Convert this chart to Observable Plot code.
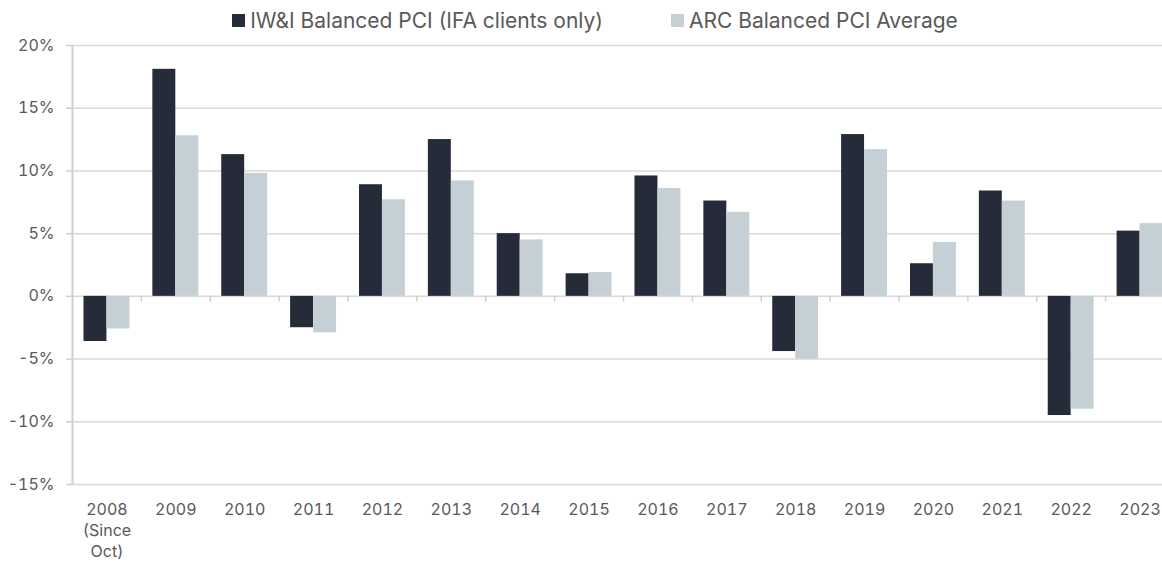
<!DOCTYPE html>
<html>
<head>
<meta charset="utf-8">
<script src="https://cdn.jsdelivr.net/npm/d3@7"></script>
<script src="https://cdn.jsdelivr.net/npm/@observablehq/plot@0.6"></script>
<style>
  html, body { margin: 0; padding: 0; background: #fff; overflow: hidden; }
  body { width: 1162px; font-family: Inter, "Noto Sans", sans-serif; }
  #legend { position: relative; z-index: 2; height: 40px; display: flex; align-items: center; justify-content: center; gap: 68px; font-size: 21px; color: #595959; padding-left: 28px; }
  .item { display: flex; align-items: center; gap: 5px; }
  .sw { width: 13px; height: 13px; display: inline-block; }
  #chart { margin-top: -12px; position: relative; z-index: 1; }
</style>
</head>
<body>
<div id="legend"></div>
<div id="chart"></div>
<script>
const years = ["2008\n(Since\nOct)", "2009", "2010", "2011", "2012", "2013", "2014", "2015", "2016", "2017", "2018", "2019", "2020", "2021", "2022", "2023"];
const seriesNames = ["IW&I Balanced PCI (IFA clients only)", "ARC Balanced PCI Average"];
const iwi = [-3.6, 18.1, 11.3, -2.5, 8.9, 12.5, 5.0, 1.8, 9.6, 7.6, -4.4, 12.9, 2.6, 8.4, -9.5, 5.2];
const arc = [-2.6, 12.8, 9.8, -2.9, 7.7, 9.2, 4.5, 1.9, 8.6, 6.7, -5.0, 11.7, 4.3, 7.6, -9.0, 5.8];
const yTicks = [-15, -10, -5, 0, 5, 10, 15, 20];
const colors = ["#252b38", "#c5d0d6"];

const rows = [];
years.forEach((y, i) => {
  rows.push({i, series: seriesNames[0], value: iwi[i], x1: i - 1/3, x2: i});
  rows.push({i, series: seriesNames[1], value: arc[i], x1: i, x2: i + 1/3});
});
const idx = d3.range(years.length);
const boundaries = idx.map(i => i + 0.5);

// legend
const legend = document.getElementById("legend");
seriesNames.forEach((s, k) => {
  const it = document.createElement("div");
  it.className = "item";
  const sw = document.createElement("span");
  sw.className = "sw";
  sw.style.background = colors[k];
  const t = document.createElement("span");
  t.textContent = s;
  it.appendChild(sw); it.appendChild(t);
  legend.appendChild(it);
});

const chart = Plot.plot({
  width: 1162,
  height: 533,
  marginLeft: 72,
  marginRight: -12,
  marginTop: 17,
  marginBottom: 77,
  style: {fontFamily: "Inter, 'Noto Sans', sans-serif", fontSize: "16px", color: "#595959", background: "none", overflow: "hidden"},
  x: {type: "linear", domain: [-0.5, years.length - 0.5], axis: null},
  y: {domain: [-15, 20], axis: null},
  color: {domain: seriesNames, range: colors},
  marks: [
    Plot.ruleY(yTicks, {stroke: "#d9d9d9", strokeWidth: 1.5}),
    Plot.ruleX([-0.5], {stroke: "#cfcfcf", strokeWidth: 2}),
    Plot.axisY(yTicks, {label: null, tickSize: 6, tickPadding: 12, tickFormat: d => d + "%", stroke: "#cfcfcf", strokeWidth: 1.5, fill: "#595959", fontSize: 16}),
    Plot.ruleX(boundaries, {y1: 0, y2: -0.45, stroke: "#cfcfcf", strokeWidth: 1.5}),
    Plot.rectY(rows, {x1: "x1", x2: "x2", y1: 0, y2: "value", fill: "series"}),
    Plot.axisX(idx, {label: null, anchor: "bottom", tickSize: 0, tickPadding: 15, tickFormat: i => years[i], lineHeight: 1.32, fill: "#595959", fontSize: 16})
  ]
});
document.getElementById("chart").appendChild(chart);
</script>
</body>
</html>
